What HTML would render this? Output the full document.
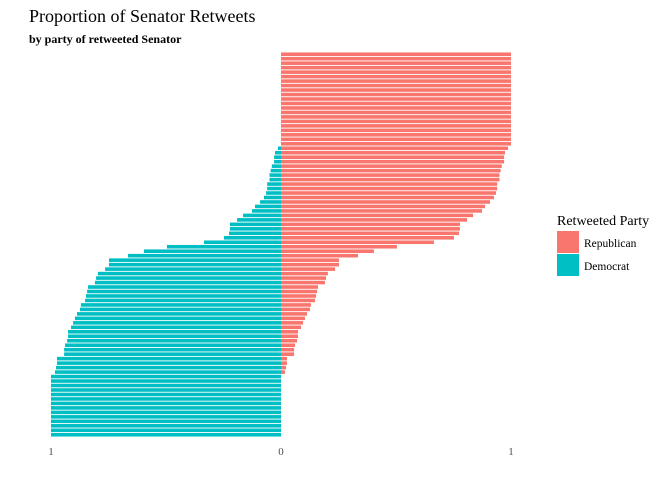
<!DOCTYPE html>
<html><head><meta charset="utf-8"><style>
body{margin:0;background:#fff;font-family:"Liberation Serif",serif}
#c{position:relative;width:672px;height:480px}
</style></head><body>
<div id="c">
<svg width="672" height="480" id="svg">
<text x="29" y="22" font-size="18" fill="#000">Proportion of Senator Retweets</text>
<text x="29" y="43" font-size="12" font-weight="bold" fill="#000">by party of retweeted Senator</text>
<g id="bars"></g>
<g id="ticks"></g>
<text x="557" y="225" font-size="14">Retweeted Party</text>
<rect x="557" y="231" width="22" height="22" fill="#F8766D"/>
<text x="584" y="247" font-size="11.5">Republican</text>
<rect x="557" y="254" width="22" height="22" fill="#00BFC4"/>
<text x="584" y="270" font-size="11.5">Democrat</text>
</svg></div>
<script>
const republican=[1,1,1,1,1,1,1,1,1,1,1,1,1,1,1,1,1,1,1,1,1,
0.987,0.974,0.97,0.97,0.96,0.955,0.95,0.95,0.94,0.94,0.935,0.926,0.909,0.887,0.874,0.835,0.809,0.778,0.778,0.774,0.752,0.665,
0.504,0.404,0.335,0.252,0.252,0.235,0.204,0.196,0.191,0.161,0.157,0.152,0.148,0.130,0.126,0.113,0.104,0.096,0.087,0.074,0.074,0.070,0.061,0.057,0.057,0.026,0.026,0.022,0.017,
0,0,0,0,0,0,0,0,0,0,0,0,0,0];
const democrat=[0,0,0,0,0,0,0,0,0,0,0,0,0,0,0,0,0,0,0,0,0,
0.013,0.026,0.03,0.03,0.04,0.045,0.05,0.05,0.06,0.06,0.065,0.074,0.091,0.113,0.126,0.165,0.191,0.222,0.222,0.226,0.248,0.335,
0.496,0.596,0.665,0.748,0.748,0.765,0.796,0.804,0.809,0.839,0.843,0.848,0.852,0.870,0.874,0.887,0.896,0.904,0.913,0.926,0.926,0.930,0.939,0.943,0.943,0.974,0.974,0.978,0.983,
1,1,1,1,1,1,1,1,1,1,1,1,1,1];
const tickValues=[-1,0,1];
const tickLabels=["1","0","1"];
const NS="http://www.w3.org/2000/svg";
const x0=281,unit=230,yTop=52,yBottom=437;
const xs=v=>x0+v*unit;
const n=republican.length,step=(yBottom-yTop)/n,bh=step*0.8;
const ys=i=>yTop+i*step+(step-bh)/2;
const g=document.getElementById('bars');
for(let i=0;i<n;i++){
 if(republican[i]>0){const r=document.createElementNS(NS,'rect');
 r.setAttribute('x',xs(0));r.setAttribute('y',ys(i));r.setAttribute('width',xs(republican[i])-xs(0));r.setAttribute('height',bh);r.setAttribute('fill','#F8766D');
 
 
 g.appendChild(r);}
 if(democrat[i]>0){const r=document.createElementNS(NS,'rect');
 r.setAttribute('x',xs(-democrat[i]));r.setAttribute('y',ys(i));r.setAttribute('width',xs(0)-xs(-democrat[i]));r.setAttribute('height',bh);r.setAttribute('fill','#00BFC4');
 
 
 g.appendChild(r);}
}
const tg=document.getElementById('ticks');
tickValues.forEach((v,i)=>{const t=document.createElementNS(NS,'text');
 t.setAttribute('x',xs(v));t.setAttribute('y',455);t.setAttribute('text-anchor','middle');t.setAttribute('font-size','11');t.setAttribute('fill','#4d4d4d');
 t.textContent=tickLabels[i];
 
 
 tg.appendChild(t);});
</script>
</body></html>
